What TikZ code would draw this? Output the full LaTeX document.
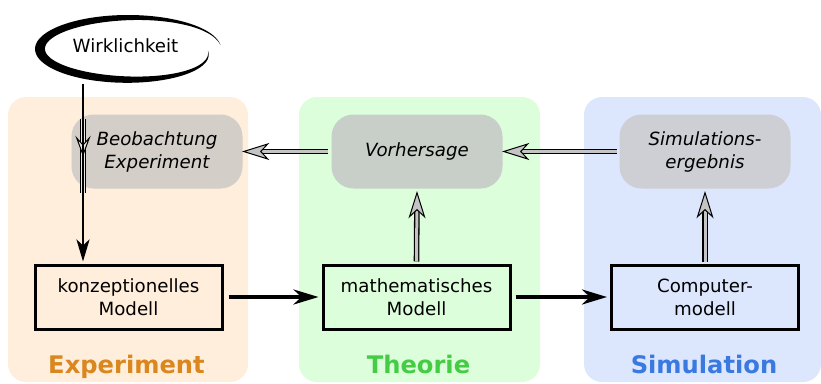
\documentclass[tikz,border=0pt]{standalone}
\usepackage{fontspec}
\setmainfont{DejaVu Sans}
\usetikzlibrary{arrows.meta,calc}
\definecolor{pexp}{RGB}{255,238,219}
\definecolor{pthe}{RGB}{221,254,219}
\definecolor{psim}{RGB}{220,231,254}
\definecolor{lexp}{RGB}{217,135,30}
\definecolor{lthe}{RGB}{68,204,68}
\definecolor{lsim}{RGB}{58,122,224}
\definecolor{gbeob}{RGB}{211,206,200}
\definecolor{gvorh}{RGB}{200,207,200}
\definecolor{gsimu}{RGB}{205,207,212}
\definecolor{dgray}{RGB}{196,196,196}
\definecolor{lgray}{RGB}{236,232,228}
\newcommand\dblarr[4]{%
  \draw[dblshaft, double=#4, shorten >=15pt] (#1) -- (#2);
  \draw[dblhead, fill=#4, shift={(#2)}, rotate=#3] (0pt,0pt) -- (-24pt,7.5pt) -- (-17pt,0pt) -- (-24pt,-7.5pt) -- cycle;
}
\begin{document}
\begin{tikzpicture}[x=1pt,y=-1pt,
  panel/.style={rounded corners=18pt},
  gbox/.style={rounded corners=22pt, minimum width=171pt, minimum height=74pt, inner sep=0pt,
     align=center, font=\fontsize{18.2}{23}\selectfont\itshape},
  mbox/.style={draw, line width=3pt, minimum width=187pt, minimum height=64pt, inner sep=0pt,
     align=center, font=\fontsize{18.2}{23}\selectfont},
  plabel/.style={anchor=base, font=\fontsize{24.2}{28}\selectfont\bfseries},
  blk/.style={line width=3.8pt, -{Stealth[length=25pt,width=15pt,inset=8pt]}},
  wblk/.style={line width=2.8pt, -{Stealth[length=22pt,width=13pt,inset=6pt]}},
  dblshaft/.style={line width=1.3pt, double distance=3pt},
  dblhead/.style={draw=black, line width=1pt, line join=miter}
]
\useasboundingbox (0,0) rectangle (821,383);
% panels
\fill[pexp, panel] (8,97) rectangle (248,382);
\fill[pthe, panel] (299,97) rectangle (540,382);
\fill[psim, panel] (584,97) rectangle (821,382);
% labels
\node[plabel, text=lexp] (lexp) at (126.5,373) {Experiment};
\node[plabel, text=lthe] (lthe) at (418.5,373) {Theorie};
\node[plabel, text=lsim] (lsim) at (704,373) {Simulation};
% gray boxes
\node[gbox, fill=gbeob] (beob) at (157,151.5) {Beobachtung\\Experiment};
\node[gbox, fill=gvorh] (vorh) at (417,151.5) {Vorhersage};
\node[gbox, fill=gsimu] (simu) at (705,151.5) {Simulations-\\ergebnis};
% model boxes
\node[mbox] (konz) at (128.5,297) {konzeptionelles\\Modell};
\node[mbox] (math) at (416.5,297) {mathematisches\\Modell};
\node[mbox] (comp) at (705,297) {Computer-\\modell};
% Wirklichkeit brush ellipse
\fill plot[domain=6:357, samples=150, smooth]
   ({128+(93-13*((\x-5.9)/351.2)^8)*cos(\x)}, {49-(34-2*((\x-5.9)/351.2)^8)*sin(\x)})
  -- plot[domain=357:6, samples=150, smooth]
   ({128+(93-13*((\x-5.9)/351.2)^8-10*sin(180*((\x-5.9)/351.2)^1.1))*cos(\x)},
    {49-(34-2*((\x-5.9)/351.2)^8-8.5*sin(180*((\x-5.9)/351.2)^1.1))*sin(\x)}) -- cycle;
\node[font=\fontsize{18.2}{23}\selectfont] (wirk) at (125.5,46) {Wirklichkeit};
% horizontal black arrows
\draw[blk] ([xshift=5pt]konz.east) -- ([xshift=-3pt]math.west);
\draw[blk] ([xshift=4pt]math.east) -- ([xshift=-3pt]comp.west);
% double arrows
\coordinate (m1) at ([yshift=2pt]math.north);
\coordinate (m2) at ([yshift=-4pt]vorh.south);
\coordinate (c1) at ([yshift=2pt]comp.north);
\coordinate (c2) at ([yshift=-4pt]simu.south);
\coordinate (v1) at ([xshift=-3pt]vorh.west);
\coordinate (v2) at ([xshift=1pt]beob.east);
\coordinate (s1) at ([xshift=-2pt]simu.west);
\coordinate (s2) at ([xshift=1pt]vorh.east);
\dblarr{m1}{m2}{90}{dgray}
\dblarr{c1}{c2}{90}{dgray}
\dblarr{v1}{v2}{180}{dgray}
\dblarr{s1}{s2}{180}{dgray}
% Wirklichkeit -> konzeptionelles Modell
\coordinate (w0) at (83,84);
\draw[wblk] (w0) -- ([yshift=2pt]w0 |- konz.north);
% double segment inside Beobachtung (over the black line)
\coordinate (b1) at (83,119);
\coordinate (b2) at (83,193);
\coordinate (bt) at (83,155);
\draw[line width=1pt, double=lgray, double distance=4pt] (b1) -- (b2);
\draw[dblhead, fill=lgray, shift={(bt)}, rotate=-90] (0pt,0pt) -- (-17pt,6.3pt) -- (-10pt,0pt) -- (-17pt,-6.3pt) -- cycle;
\draw[line width=1.6pt] (b1) -- (b2);
\end{tikzpicture}
\end{document}
